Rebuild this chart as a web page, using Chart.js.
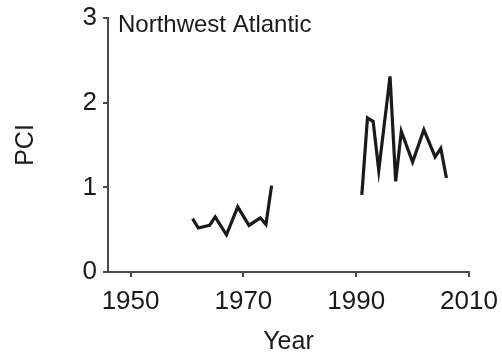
<!DOCTYPE html>
<html>
<head>
<meta charset="utf-8">
<script src="https://cdn.jsdelivr.net/npm/chart.js@4"></script>
<style>
html,body{margin:0;padding:0;background:#fff;}
#wrap{width:502px;height:360px;position:relative;}
</style>
</head>
<body>
<div id="wrap"><canvas id="c" width="502" height="360"></canvas></div>
<script>
// Data
const years1 = [1961, 1962, 1964, 1965, 1967, 1969, 1971, 1973, 1974, 1975];
const pci1   = [0.63, 0.52, 0.55, 0.65, 0.44, 0.77, 0.55, 0.64, 0.56, 1.02];
const years2 = [1991, 1992, 1993, 1994, 1996, 1997, 1998, 2000, 2002, 2004, 2005, 2006];
const pci2   = [0.91, 1.82, 1.78, 1.20, 2.31, 1.07, 1.66, 1.30, 1.68, 1.36, 1.46, 1.11];
const xTicks = [1950, 1970, 1990, 2010];
const yTicks = [0, 1, 2, 3];
const panelTitle = 'Northwest Atlantic';
const xTitle = 'Year';
const yTitle = 'PCI';

const FONT = '"Liberation Sans", Arial, Helvetica, sans-serif';
const INK = '#1a1a1a';
const AXIS = '#4a4a4a';

const toPts = (xs, ys) => xs.map((x, i) => ({x: x, y: ys[i]}));

const panelLabel = {
  id: 'panelLabel',
  afterDraw(chart) {
    const ctx = chart.ctx;
    ctx.save();
    ctx.font = '24px ' + FONT;
    ctx.fillStyle = INK;
    ctx.textAlign = 'left';
    ctx.textBaseline = 'middle';
    ctx.fillText(panelTitle, chart.chartArea.left + 10, chart.chartArea.top + 7);
    ctx.restore();
  }
};

new Chart(document.getElementById('c'), {
  type: 'line',
  data: {
    datasets: [
      {data: toPts(years1, pci1), borderColor: INK, borderWidth: 3.2, pointRadius: 0, tension: 0, fill: false},
      {data: toPts(years2, pci2), borderColor: INK, borderWidth: 3.2, pointRadius: 0, tension: 0, fill: false}
    ]
  },
  options: {
    responsive: false,
    animation: false,
    events: [],
    layout: {padding: {top: 18, right: 33, left: 0, bottom: 0}},
    plugins: {legend: {display: false}, tooltip: {enabled: false}, title: {display: false}},
    scales: {
      x: {
        type: 'linear',
        min: 1946, max: 2010,
        afterBuildTicks: s => { s.ticks = xTicks.map(v => ({value: v})); },
        afterFit: s => { s.height = 88; s.paddingLeft = 0; s.paddingRight = 0; },
        ticks: {color: INK, font: {family: FONT, size: 26}, padding: 9, maxRotation: 0, autoSkip: false,
                callback: v => String(v)},
        grid: {display: true, drawOnChartArea: false, drawTicks: true, tickLength: 5, color: AXIS, lineWidth: 2},
        border: {display: true, color: AXIS, width: 2},
        title: {display: true, text: xTitle, color: INK, font: {family: FONT, size: 25}, padding: {top: 0, bottom: 3}}
      },
      y: {
        type: 'linear',
        min: 0, max: 3,
        afterBuildTicks: s => { s.ticks = yTicks.map(v => ({value: v})); },
        afterFit: s => { s.width = 108; s.paddingTop = 0; s.paddingBottom = 0; },
        ticks: {color: INK, font: {family: FONT, size: 26}, padding: 6, callback: v => String(v)},
        grid: {display: true, drawOnChartArea: false, drawTicks: true, tickLength: 5, color: AXIS, lineWidth: 2},
        border: {display: true, color: AXIS, width: 2},
        title: {display: true, text: yTitle, color: INK, font: {family: FONT, size: 25}, padding: {top: 11, bottom: 0}}
      }
    }
  },
  plugins: [panelLabel]
});
</script>
</body>
</html>
